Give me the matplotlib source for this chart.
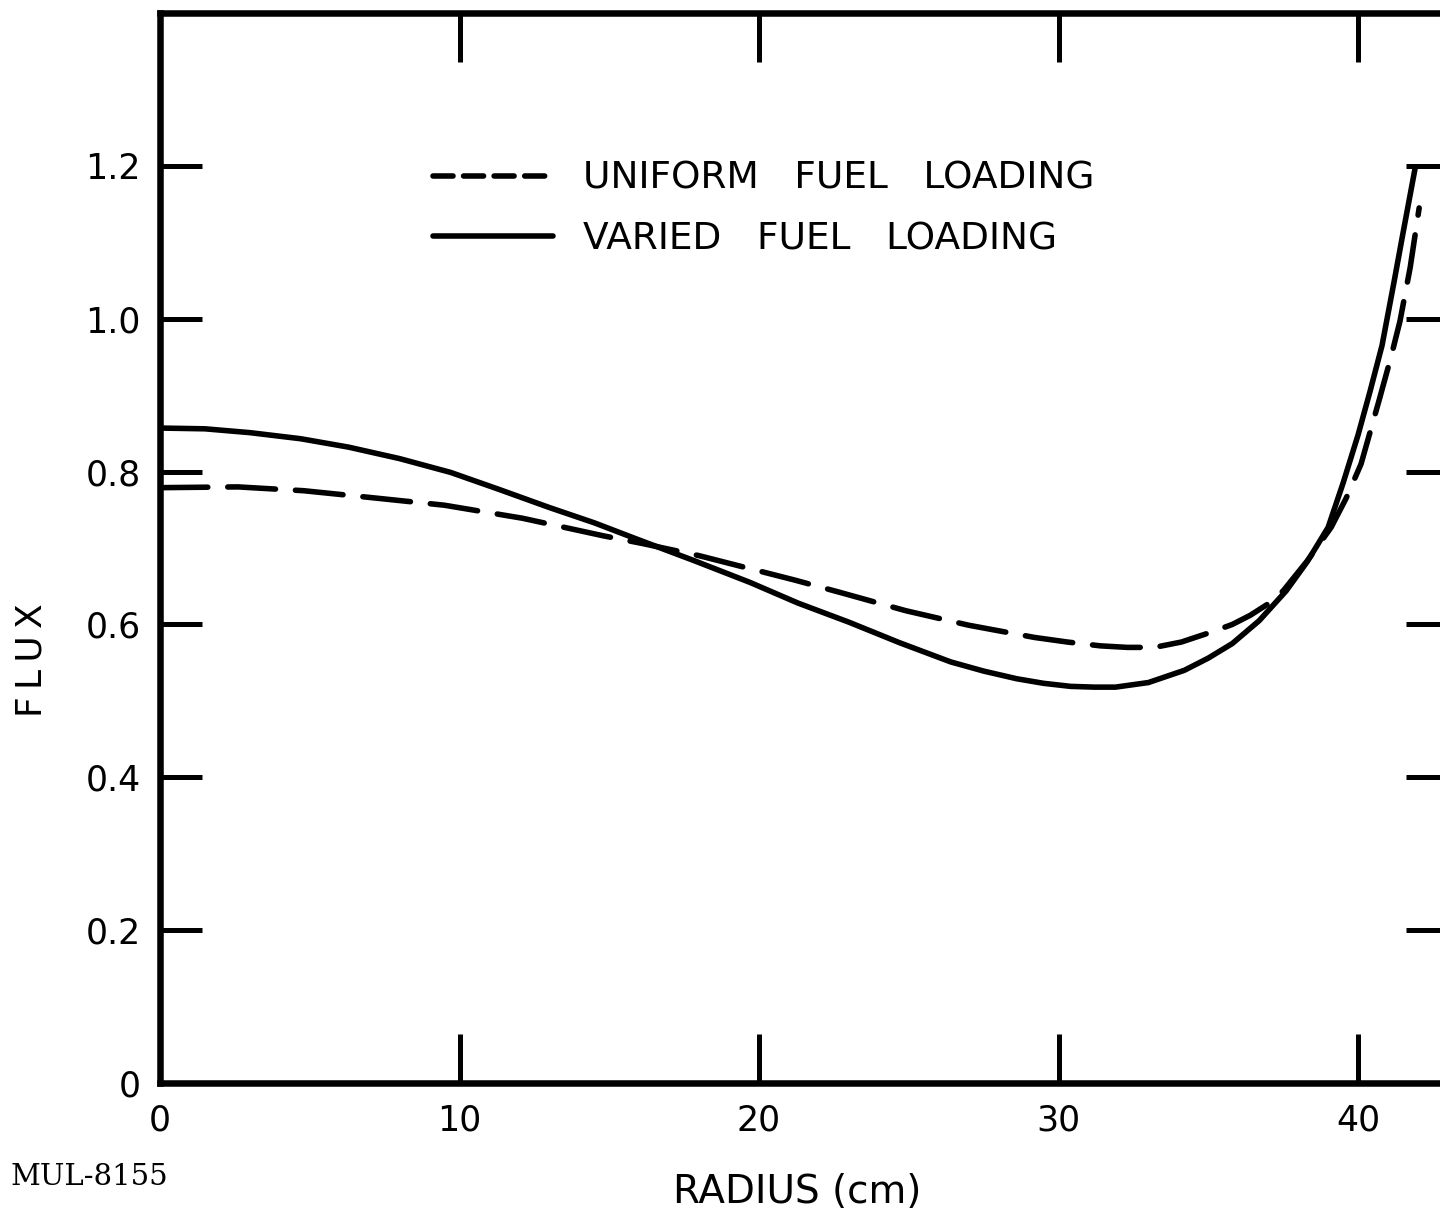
import matplotlib
matplotlib.use("Agg")
import matplotlib.pyplot as plt
from matplotlib.lines import Line2D

# Curvas (radio en cm, flujo)
radio_variado = [0.0, 1.5, 3.0, 4.7, 6.3, 8.0, 9.7, 11.3, 13.0, 14.5, 15.9, 17.8,
                 19.7, 21.3, 23.0, 24.7, 26.4, 27.5, 28.6, 29.5, 30.4, 31.2, 31.9,
                 33.0, 34.2, 35.0, 35.8, 36.7, 37.6, 38.3, 39.0, 39.5, 40.0, 40.4,
                 40.8, 41.2, 41.5, 41.9]
flujo_variado = [0.857, 0.856, 0.851, 0.843, 0.832, 0.817, 0.799, 0.777, 0.753, 0.733,
                 0.712, 0.684, 0.655, 0.628, 0.603, 0.576, 0.551, 0.539, 0.529, 0.523,
                 0.519, 0.518, 0.518, 0.524, 0.540, 0.556, 0.575, 0.605, 0.644, 0.682,
                 0.727, 0.785, 0.848, 0.905, 0.965, 1.048, 1.112, 1.196]

radio_uniforme = [0.0, 2.6, 4.8, 7.3, 9.5, 12.1, 14.8, 16.1, 18.0, 19.7, 21.2, 22.7,
                  24.9, 27.0, 29.2, 30.3, 31.4, 32.3, 33.2, 34.1, 35.1, 35.8, 36.4,
                  37.0, 37.5, 38.3, 39.1, 39.6, 40.1, 40.7, 41.1, 41.4, 41.74, 42.04]
flujo_uniforme = [0.779, 0.780, 0.775, 0.765, 0.756, 0.739, 0.716, 0.706, 0.690, 0.673,
                  0.658, 0.642, 0.618, 0.599, 0.583, 0.577, 0.572, 0.570, 0.570, 0.577,
                  0.590, 0.600, 0.612, 0.627, 0.644, 0.683, 0.727, 0.765, 0.810, 0.893,
                  0.950, 0.997, 1.067, 1.145]

ticks_x = [0, 10, 20, 30, 40]
etiquetas_x = ["0", "10", "20", "30", "40"]
ticks_y = [0, 0.2, 0.4, 0.6, 0.8, 1.0, 1.2]
etiquetas_y = ["0", "0.2", "0.4", "0.6", "0.8", "1.0", "1.2"]

fig = plt.figure(figsize=(14.4, 12.09), dpi=100)
ax = fig.add_axes([0.1111, 0.1042, 0.8944, 0.885])

ax.plot(radio_variado, flujo_variado, color="black", lw=4.0, solid_capstyle="round",
        solid_joinstyle="round")
ax.plot(radio_uniforme, flujo_uniforme, color="black", lw=4.0, dashes=(8.6, 3.6),
        dash_capstyle="round", dash_joinstyle="round")

ax.set_xlim(0, 43.0)
ax.set_ylim(0, 1.4)
ax.set_xticks(ticks_x)
ax.set_xticklabels(etiquetas_x)
ax.set_yticks(ticks_y)
ax.set_yticklabels(etiquetas_y)

for s in ax.spines.values():
    s.set_linewidth(4.7)
    s.set_capstyle("projecting")

ax.tick_params(axis="x", direction="in", length=35, width=3.6, top=True, bottom=True,
               pad=15, labelsize=25)
ax.tick_params(axis="y", direction="in", length=30, width=3.6, left=True, right=True,
               pad=14, labelsize=25)

# leyenda
h_uni = Line2D([], [], color="black", lw=4.0, dashes=(3.6, 1.9), dash_capstyle="round")
h_var = Line2D([], [], color="black", lw=4.0, solid_capstyle="round")
ax.legend([h_uni, h_var], ["UNIFORM   FUEL   LOADING", "VARIED   FUEL   LOADING"],
          loc="upper left", bbox_to_anchor=(0.212, 0.862), frameon=False,
          fontsize=27, handlelength=3.2, handletextpad=0.8, labelspacing=0.65,
          borderpad=0, borderaxespad=0)

fig.text(32 / 1440, 1 - 660 / 1209, "F\u2009L\u2009U\u2009X", rotation=90, fontsize=26,
         ha="center", va="center")
fig.text(797 / 1440, 1 - 1192 / 1209, "RADIUS (cm)", fontsize=28,
         ha="center", va="center")
fig.text(10 / 1440, 1 - 1177 / 1209, "MUL-8155", fontsize=21, family="DejaVu Serif",
         ha="left", va="center")

fig.savefig("out.png", dpi=100)
